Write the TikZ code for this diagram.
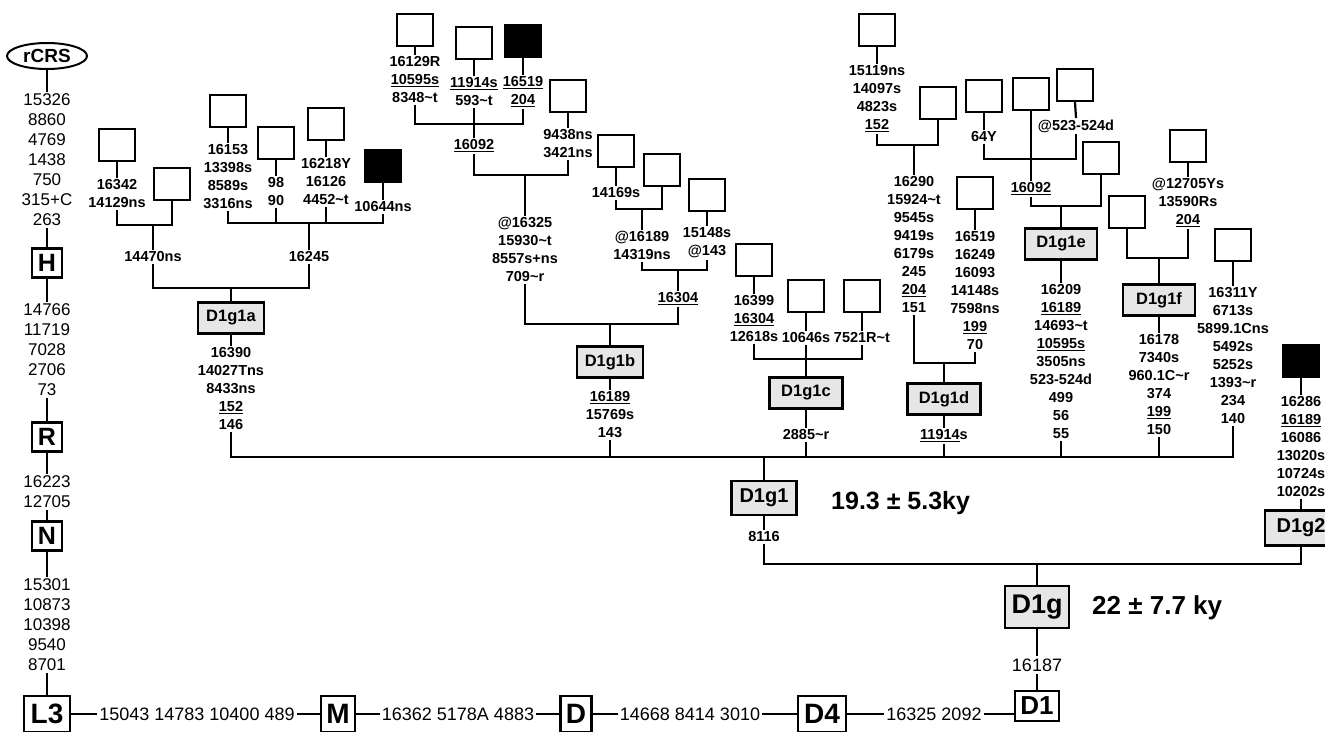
\documentclass[tikz,border=0pt]{standalone}
\usepackage{fontspec}
\setmainfont{Liberation Sans}
\usetikzlibrary{shapes.geometric}
\definecolor{boxgray}{HTML}{E6E6E6}
\newcommand{\tld}{\textasciitilde{}}
\newcommand{\undl}[1]{\setbox0\hbox{#1}\rlap{\rule[-2.3pt]{\wd0}{1.1pt}}\box0}
\tikzset{
  lk/.style={line width=2.2pt},
  sq/.style={draw, line width=2.4pt, minimum width=36pt, minimum height=32pt, inner sep=0pt},
  bsq/.style={sq, fill=black},
  lab/.style={font=\bfseries\fontsize{14.5}{18}\selectfont, align=center, inner sep=1.5pt, anchor=north},
  col/.style={font=\fontsize{17}{20}\selectfont, align=center, inner sep=1.5pt, anchor=north},
  rowt/.style={font=\fontsize{18}{20}\selectfont, inner sep=2pt},
  hap/.style={draw, line width=2.4pt, fill=boxgray, font=\bfseries\fontsize{16.5}{18}\selectfont, minimum width=66pt, minimum height=31pt, inner sep=0pt},
  mbox/.style={draw, line width=2.4pt, font=\bfseries\fontsize{25}{26}\selectfont, minimum width=30pt, minimum height=29pt, inner sep=0pt},
  lbox/.style={draw, line width=2.4pt, font=\bfseries\fontsize{28}{29}\selectfont, minimum height=36pt, inner sep=0pt},
  kyt/.style={font=\bfseries\fontsize{26}{28}\selectfont, anchor=west, inner sep=0pt}
}
\begin{document}
\begin{tikzpicture}[x=1pt,y=-1pt]
\useasboundingbox (0,0) rectangle (1325,731);
\clip (0,0) rectangle (1325,731);

% ---------- left column ----------
\node[draw, ellipse, line width=2pt, minimum width=80pt, minimum height=26pt, inner sep=0pt, font=\bfseries\fontsize{19}{20}\selectfont] (rcrs) at (47,56) {rCRS};
\node[col] (c1) at (47,92.4) {15326\\8860\\4769\\1438\\750\\315+C\\263};
\node[mbox] (h) at (47,263) {H};
\node[col] (c2) at (47,302.4) {14766\\11719\\7028\\2706\\73};
\node[mbox] (r) at (47,437) {R};
\node[col] (c3) at (47,474.4) {16223\\12705};
\node[mbox] (n) at (47,536) {N};
\node[col] (c4) at (47,577.4) {15301\\10873\\10398\\9540\\8701};
\node[lbox, minimum width=46pt] (l3) at (47,714) {L3};
\draw[lk] (rcrs.south) -- (c1.north);
\draw[lk] (c1.south) -- (h.north);
\draw[lk] (h.south) -- (c2.north);
\draw[lk] (c2.south) -- (r.north);
\draw[lk] (r.south) -- (c3.north);
\draw[lk] (c3.south) -- (n.north);
\draw[lk] (n.south) -- (c4.north);
\draw[lk] (c4.south) -- (l3.north);

% ---------- bottom row ----------
\node[rowt] (t1) at (197,714) {15043 14783 10400 489};
\node[lbox, minimum width=34pt] (m) at (338,714) {M};
\node[rowt] (t2) at (458,714) {16362 5178A 4883};
\node[lbox, minimum width=31pt] (d) at (576,714) {D};
\node[rowt] (t3) at (690,714) {14668 8414 3010};
\node[lbox, minimum width=48pt] (d4) at (822,714) {D4};
\node[rowt] (t4) at (934,714) {16325 2092};
\node[draw, line width=2.4pt, font=\bfseries\fontsize{26}{27}\selectfont, minimum width=44pt, minimum height=30pt, inner sep=0pt] (d1) at (1037,706) {D1};
\draw[lk] (l3.east |- t1.west) -- (t1.west);
\draw[lk] (t1.east) -- (t1.east -| m.west);
\draw[lk] (m.east |- t2.west) -- (t2.west);
\draw[lk] (t2.east) -- (t2.east -| d.west);
\draw[lk] (d.east |- t3.west) -- (t3.west);
\draw[lk] (t3.east) -- (t3.east -| d4.west);
\draw[lk] (d4.east |- t4.west) -- (t4.west);
\draw[lk] (t4.east) -- (t4.east -| d1.west);

% ---------- D1g ----------
\node[rowt] (l16187) at (1037,665) {16187};
\node[hap, font=\bfseries\fontsize{27}{28}\selectfont, minimum width=64pt, minimum height=42pt] (d1g) at (1037,607) {D1g};
\node[kyt] (ky2) at (1092,608) {22 ± 7.7 ky};
\draw[lk] (d1g.south) -- (l16187.north);
\draw[lk] (l16187.south) -- (d1.north);

\node[hap, font=\bfseries\fontsize{20}{22}\selectfont, minimum width=65pt, minimum height=34pt] (d1g1) at (764,498) {D1g1};
\node[lab] (l8116) at (764,530) {8116};
\node[kyt, font=\bfseries\fontsize{25}{27}\selectfont] (ky1) at (831,503) {19.3 ± 5.3ky};
\node[hap, font=\bfseries\fontsize{20}{22}\selectfont, minimum width=72pt, minimum height=35pt] (d1g2) at (1301,528) {D1g2};
\node[bsq] (bsq3) at (1301,361) {};
\node[lab] (l1g2) at (1301,395) {16286\\\undl{16189}\\16086\\13020s\\10724s\\10202s};
\coordinate (b564) at (1037,564);
\draw[lk] (d1g1.south) -- (l8116.north);
\draw[lk] (l8116.south) |- (b564) -| (d1g2.south);
\draw[lk] (b564) -- (d1g.north);
\draw[lk] (bsq3.south) -- (l1g2.north);
\draw[lk] (l1g2.south) -- (d1g2.north);

% ---------- D1g1 main bar ----------
\coordinate (b457) at (764,457);
\node[hap] (d1g1a) at (231,318) {D1g1a};
\node[lab] (la) at (231,346) {16390\\14027Tns\\8433ns\\\undl{152}\\146};
\node[hap] (d1g1b) at (610,362) {D1g1b};
\node[lab] (lb) at (610,390) {\undl{16189}\\15769s\\143};
\node[hap, minimum width=73pt] (d1g1c) at (806,393) {D1g1c};
\node[lab] (lc) at (806,428) {2885\tld r};
\node[hap, minimum width=73pt] (d1g1d) at (944,399) {D1g1d};
\node[lab] (ld) at (944,428) {\undl{11914}s};
\node[hap, minimum width=72pt] (d1g1e) at (1061,244) {D1g1e};
\node[lab] (le) at (1061,283) {16209\\\undl{16189}\\14693\tld t\\\undl{10595s}\\3505ns\\523-524d\\499\\56\\55};
\node[hap, minimum width=72pt] (d1g1f) at (1159,300) {D1g1f};
\node[lab] (lf) at (1159,333) {16178\\7340s\\960.1C\tld r\\374\\\undl{199}\\150};
\node[sq] (sq16311) at (1233,245) {};
\node[lab] (lg) at (1233,286) {16311Y\\6713s\\5899.1Cns\\5492s\\5252s\\1393\tld r\\234\\140};
\draw[lk] (la.south) |- (b457) -| (lg.south);
\draw[lk] (b457) -- (d1g1.north);
\draw[lk] (d1g1a.south) -- (la.north);
\draw[lk] (d1g1b.south) -- (lb.north);
\draw[lk] (lb.south) -- (lb.south |- b457);
\draw[lk] (d1g1c.south) -- (lc.north);
\draw[lk] (lc.south) -- (lc.south |- b457);
\draw[lk] (d1g1d.south) -- (ld.north);
\draw[lk] (ld.south) -- (ld.south |- b457);
\draw[lk] (d1g1e.south) -- (le.north);
\draw[lk] (le.south) -- (le.south |- b457);
\draw[lk] (d1g1f.south) -- (lf.north);
\draw[lk] (lf.south) -- (lf.south |- b457);
\draw[lk] (sq16311.south) -- (lg.north);

% ---------- D1g1a subtree ----------
\coordinate (j288) at (231,288);
\coordinate (j225) at (153,225);
\coordinate (j223) at (309,223);
\node[lab] (l14470) at (153,250) {14470ns};
\node[lab] (l16245) at (309,250) {16245};
\node[sq] (sq1) at (117,145) {};
\node[lab] (a1) at (117,178) {16342\\14129ns};
\node[sq] (sq2) at (172,184) {};
\node[sq] (sq3) at (228,111) {};
\node[lab] (a2) at (228,143) {16153\\13398s\\8589s\\3316ns};
\node[sq] (sq4) at (276,143) {};
\node[lab] (a3) at (276,176) {98\\90};
\node[sq] (sq5) at (326,124) {};
\node[lab] (a4) at (326,157) {16218Y\\16126\\4452\tld t};
\node[bsq] (bsq1) at (383,166) {};
\node[lab] (a5) at (383,200) {10644ns};
\draw[lk] (sq1.south) -- (a1.north);
\draw[lk] (a1.south) |- (j225) -| (sq2.south);
\draw[lk] (j225) -- (l14470.north);
\draw[lk] (l14470.south) |- (j288) -| (l16245.south);
\draw[lk] (j288) -- (d1g1a.north);
\draw[lk] (l16245.north) -- (j223);
\draw[lk] (a2.south) |- (j223) -| (a5.south);
\draw[lk] (a3.south) -- (a3.south |- j223);
\draw[lk] (a4.south) -- (a4.south |- j223);
\draw[lk] (sq3.south) -- (a2.north);
\draw[lk] (sq4.south) -- (a3.north);
\draw[lk] (sq5.south) -- (a4.north);
\draw[lk] (bsq1.south) -- (a5.north);

% ---------- D1g1b subtree ----------
\coordinate (j324) at (610,324);
\coordinate (j175) at (525,175);
\coordinate (j124) at (474,124);
\coordinate (j270) at (678,270);
\coordinate (j209) at (642,209);
\node[lab] (l16325) at (525,216) {@16325\\15930\tld t\\8557s+ns\\709\tld r};
\node[lab] (l16304) at (678,291) {\undl{16304}};
\node[lab] (l16092) at (474,138) {\undl{16092}};
\node[sq] (sq9438) at (568,96) {};
\node[lab] (l9438) at (568,128) {9438ns\\3421ns};
\node[sq] (sq16129) at (415,30) {};
\node[lab] (l16129) at (415,55) {16129R\\\undl{10595s}\\8348\tld t};
\node[sq] (sq11914) at (474,43) {};
\node[lab] (l11914) at (474,76) {\undl{11914s}\\593\tld t};
\node[bsq] (bsq2) at (523,41) {};
\node[lab] (l16519) at (523,75) {\undl{16519}\\\undl{204}};
\node[lab] (l16189) at (642,230) {@16189\\14319ns};
\node[sq] (sq15148) at (707,195) {};
\node[lab] (l15148) at (707,226) {15148s\\@143};
\node[sq] (sq14169) at (616,151) {};
\node[lab] (l14169) at (616,186) {14169s};
\node[sq] (sq662) at (662,170) {};
\draw[lk] (sq16129.south) -- (l16129.north);
\draw[lk] (sq11914.south) -- (l11914.north);
\draw[lk] (bsq2.south) -- (l16519.north);
\draw[lk] (l16129.south) |- (j124) -| (l16519.south);
\draw[lk] (l11914.south) -- (l16092.north);
\draw[lk] (sq9438.south) -- (l9438.north);
\draw[lk] (l16092.south) |- (j175) -| (l9438.south);
\draw[lk] (j175) -- (l16325.north);
\draw[lk] (l16325.south) |- (j324) -| (l16304.south);
\draw[lk] (j324) -- (d1g1b.north);
\draw[lk] (sq15148.south) -- (l15148.north);
\draw[lk] (l16189.south) |- (j270) -| (l15148.south);
\draw[lk] (j270) -- (l16304.north);
\draw[lk] (sq14169.south) -- (l14169.north);
\draw[lk] (l14169.south) |- (j209) -| (sq662.south);
\draw[lk] (j209) -- (l16189.north);

% ---------- D1g1c subtree ----------
\coordinate (j359) at (806,359);
\node[sq] (sq16399) at (754,260) {};
\node[lab] (l16399) at (754,294) {16399\\\undl{16304}\\12618s};
\node[sq] (sq10646) at (806,296) {};
\node[lab] (l10646) at (806,331) {10646s};
\node[sq] (sq7521) at (862,296) {};
\node[lab] (l7521) at (862,331) {7521R\tld t};
\draw[lk] (sq16399.south) -- (l16399.north);
\draw[lk] (sq10646.south) -- (l10646.north);
\draw[lk] (sq7521.south) -- (l7521.north);
\draw[lk] (l16399.south) |- (j359) -| (l7521.south);
\draw[lk] (l10646.south) -- (d1g1c.north);

% ---------- D1g1d subtree ----------
\coordinate (j363) at (944,363);
\coordinate (j145) at (914,145);
\node[lab] (l16290) at (914,175) {16290\\15924\tld t\\9545s\\9419s\\6179s\\245\\\undl{204}\\151};
\node[sq] (sq16519b) at (975,193) {};
\node[lab] (l16519b) at (975,230) {16519\\16249\\16093\\14148s\\7598ns\\\undl{199}\\70};
\node[sq] (sq15119) at (877,30) {};
\node[lab] (l15119) at (877,64) {15119ns\\14097s\\4823s\\\undl{152}};
\node[sq] (sq938) at (938,103) {};
\draw[lk] (sq15119.south) -- (l15119.north);
\draw[lk] (l15119.south) |- (j145) -| (sq938.south);
\draw[lk] (j145) -- (l16290.north);
\draw[lk] (sq16519b.south) -- (l16519b.north);
\draw[lk] (l16290.south) |- (j363) -| (l16519b.south);
\draw[lk] (j363) -- (d1g1d.north);

% ---------- D1g1e subtree ----------
\coordinate (j206) at (1061,206);
\coordinate (j159) at (1031,159);
\node[lab] (l16092b) at (1031,181) {\undl{16092}};
\node[sq] (sqR) at (1101,158) {};
\node[sq] (sq64) at (984,96) {};
\node[lab] (l64y) at (984,130) {64Y};
\node[sq] (sqM) at (1031,94) {};
\node[sq] (sq523) at (1075,85) {};
\node[lab] (l523) at (1076,118) {@523-524d};
\draw[lk] (sq64.south) -- (l64y.north);
\draw[lk] (sq523.south) -- (l523.north);
\draw[lk] (l64y.south) |- (j159) -| (l523.south);
\draw[lk] (sqM.south) -- (l16092b.north);
\draw[lk] (l16092b.south) |- (j206) -| (sqR.south);
\draw[lk] (j206) -- (d1g1e.north);

% ---------- D1g1f subtree ----------
\coordinate (j258) at (1159,258);
\node[sq] (sqf1) at (1127,212) {};
\node[sq] (sq12705) at (1188,146) {};
\node[lab] (l12705) at (1188,177) {@12705Ys\\13590Rs\\\undl{204}};
\draw[lk] (sq12705.south) -- (l12705.north);
\draw[lk] (sqf1.south) |- (j258) -| (l12705.south);
\draw[lk] (j258) -- (d1g1f.north);
\end{tikzpicture}
\end{document}
